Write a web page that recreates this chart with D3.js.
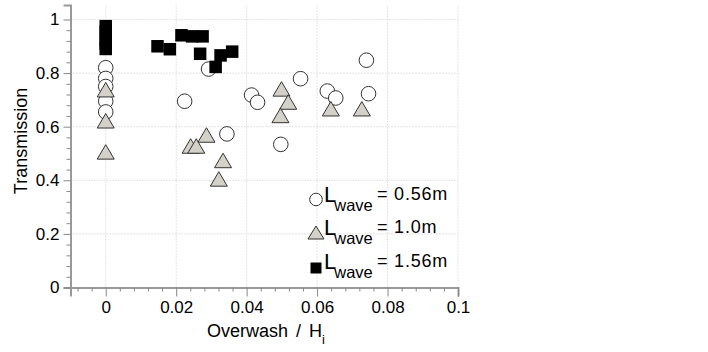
<!DOCTYPE html>
<html>
<head>
<meta charset="utf-8">
<script src="https://cdn.jsdelivr.net/npm/d3@7"></script>
<style>
  body { margin: 0; background: #fff; }
  text { font-family: "Liberation Sans", Arial, sans-serif; fill: #000; }
</style>
</head>
<body>
<div id="graph-container"></div>
<script>
// L_wave = 0.56m (open circles)
const circleX = [0, 0, 0, 0, 0, 0.0224, 0.0292, 0.0344, 0.0414, 0.0431, 0.0497, 0.0553, 0.0629, 0.0653, 0.074, 0.0746];
const circleY = [0.82, 0.78, 0.75, 0.695, 0.655, 0.695, 0.815, 0.573, 0.718, 0.691, 0.534, 0.779, 0.733, 0.707, 0.848, 0.723];

// L_wave = 1.0m (grey triangles)
const triX = [0, 0, 0, 0.0241, 0.0257, 0.0286, 0.0333, 0.0321, 0.0499, 0.0518, 0.0496, 0.0639, 0.0727];
const triY = [0.738, 0.622, 0.506, 0.528, 0.528, 0.569, 0.474, 0.405, 0.741, 0.692, 0.642, 0.667, 0.667];

// L_wave = 1.56m (black squares)
const sqX = [0, 0, 0, 0, 0, 0.0147, 0.0182, 0.0215, 0.0245, 0.0275, 0.0268, 0.0312, 0.0326, 0.0359];
const sqY = [0.975, 0.955, 0.93, 0.91, 0.89, 0.9, 0.889, 0.941, 0.937, 0.937, 0.872, 0.823, 0.866, 0.88];

const xTicks = [0, 0.02, 0.04, 0.06, 0.08, 0.1];
const xTickLabels = ["0", "0.02", "0.04", "0.06", "0.08", "0.1"];
const yTicks = [0, 0.2, 0.4, 0.6, 0.8, 1];
const yTickLabels = ["0", "0.2", "0.4", "0.6", "0.8", "1"];

const legendLabels = ["= 0.56m", "= 1.0m", "= 1.56m"];

const width = 708;
const height = 352;

const x = d3.scaleLinear().domain([-0.01, 0.1]).range([70.5, 458]);
const y = d3.scaleLinear().domain([0, 1.054]).range([287.5, 5]);

const svg = d3
  .select("#graph-container")
  .append("svg")
  .attr("width", width)
  .attr("height", height);

//grid
const grid = svg.append("g").attr("stroke", "#c8c8c8").attr("stroke-dasharray", "1,2");
grid
  .selectAll("line.gx")
  .data(xTicks)
  .enter()
  .append("line")
  .attr("x1", (d) => x(d))
  .attr("x2", (d) => x(d))
  .attr("y1", y(0))
  .attr("y2", y(1.054));
grid
  .selectAll("line.gy")
  .data(yTicks.slice(1))
  .enter()
  .append("line")
  .attr("x1", x(-0.01))
  .attr("x2", x(0.1))
  .attr("y1", (d) => y(d))
  .attr("y2", (d) => y(d));

//minor ticks
const xMinor = d3.range(-8, 101, 4).map((d) => d / 1000).filter((d) => Math.round(d * 1000) % 20 !== 0);
const yMinor = d3.range(4, 100, 4).map((d) => d / 100).filter((d) => Math.round(d * 100) % 20 !== 0);

svg
  .append("g")
  .attr("transform", `translate(0,${y(0)})`)
  .call(d3.axisBottom(x).tickValues(xTicks).tickFormat((d, i) => xTickLabels[i]).tickSize(9).tickPadding(4));
svg
  .append("g")
  .attr("transform", `translate(0,${y(0)})`)
  .call(d3.axisBottom(x).tickValues(xMinor).tickFormat("").tickSize(4))
  .select(".domain")
  .remove();

svg
  .append("g")
  .attr("transform", `translate(${x(-0.01)},0)`)
  .call(d3.axisLeft(y).tickValues(yTicks).tickFormat((d, i) => yTickLabels[i]).tickSize(7).tickPadding(4));
svg
  .append("g")
  .attr("transform", `translate(${x(-0.01)},0)`)
  .call(d3.axisLeft(y).tickValues(yMinor).tickFormat("").tickSize(4))
  .select(".domain")
  .remove();

svg.selectAll(".domain").attr("stroke", "#999").attr("stroke-width", 2);
svg.selectAll(".tick line").attr("stroke", "#888");
svg
  .selectAll(".tick text")
  .attr("font-size", 17)
  .attr("font-family", "Liberation Sans, Arial, sans-serif")
  .attr("fill", "#000");

//axis titles
const xTitle = svg
  .append("text")
  .attr("x", 207)
  .attr("y", 337)
  .attr("fill", "#000")
  .attr("font-size", 18);
xTitle.append("tspan").text("Overwash");
xTitle.append("tspan").attr("dx", 8).text("/");
xTitle.append("tspan").attr("dx", 8).text("H");
xTitle.append("tspan").attr("font-size", 13).attr("dy", 7).text("i");

svg
  .append("text")
  .attr("transform", "translate(27,141) rotate(-90)")
  .attr("text-anchor", "middle")
  .attr("fill", "#000")
  .attr("font-size", 18)
  .text("Transmission");

//markers
const triPath = (cx, cy, w, h) =>
  `M${cx},${cy - h / 2}L${cx + w / 2},${cy + h / 2}L${cx - w / 2},${cy + h / 2}Z`;

const drawCircle = (g, cx, cy, r) =>
  g
    .append("circle")
    .attr("cx", cx)
    .attr("cy", cy)
    .attr("r", r)
    .attr("fill", "#fff")
    .attr("stroke", "#333")
    .attr("stroke-width", 1);

const drawTri = (g, cx, cy, w, h) =>
  g
    .append("path")
    .attr("d", triPath(cx, cy, w, h))
    .attr("fill", "#d4d1c8")
    .attr("stroke", "#333")
    .attr("stroke-width", 1);

const drawSq = (g, cx, cy, s) =>
  g
    .append("rect")
    .attr("x", cx - s / 2)
    .attr("y", cy - s / 2)
    .attr("width", s)
    .attr("height", s)
    .attr("fill", "#000");

const pts = svg.append("g");
circleX.forEach((d, i) => drawCircle(pts, x(d), y(circleY[i]), 7.3));
triX.forEach((d, i) => drawTri(pts, x(d), y(triY[i]), 17, 14.5));
sqX.forEach((d, i) => drawSq(pts, x(d), y(sqY[i]), 12.5));

//legend
const legend = svg.append("g");
const rowY = [199.5, 232.5, 267];
const markerFns = [
  (cy) => drawCircle(legend, 316, cy, 6.3),
  (cy) => drawTri(legend, 316, cy, 16, 13),
  (cy) => drawSq(legend, 316, cy + 1, 11),
];
legendLabels.forEach((lab, i) => {
  const cy = rowY[i];
  markerFns[i](cy);
  const t = legend.append("text").attr("x", 324).attr("y", cy + 2);
  t.append("tspan").attr("font-size", 22).text("L");
  t.append("tspan").attr("font-size", 16.5).attr("dx", -2).attr("dy", 9).text("wave");
  legend
    .append("text")
    .attr("x", 377)
    .attr("y", cy)
    .attr("font-size", 18)
    .attr("letter-spacing", 0.8)
    .text(lab);
});
</script>
</body>
</html>
